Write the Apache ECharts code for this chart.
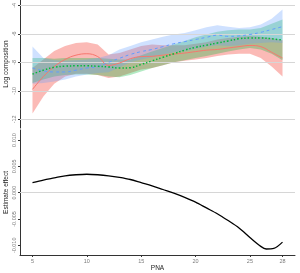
<!DOCTYPE html>
<html><head><meta charset="utf-8">
<script src="https://cdn.jsdelivr.net/npm/echarts@6/dist/echarts.min.js"></script>
<style>html,body{margin:0;padding:0;background:#fff}#c{width:300px;height:273px}</style>
</head><body><div id="c"></div>
<script>
var pna = [5,6,7,8,9,10,11,12,13,14,15,16,17,18,19,20,21,22,23,24,25,26,27,28];
var redFit   = [-9.9,-9.0,-8.3,-7.8,-7.5,-7.4,-7.6,-8.22,-8.05,-7.75,-7.6,-7.58,-7.5,-7.42,-7.35,-7.25,-7.15,-7.1,-7.0,-6.9,-6.82,-6.9,-7.3,-7.7];
var redLow   = [-11.6,-10.4,-9.5,-9.0,-8.8,-8.8,-8.9,-9.1,-9.0,-8.75,-8.5,-8.4,-8.2,-8.0,-7.9,-7.8,-7.7,-7.55,-7.45,-7.4,-7.4,-7.7,-8.3,-9.0];
var redHigh  = [-8.4,-7.8,-7.2,-6.85,-6.65,-6.6,-6.75,-7.45,-7.35,-7.1,-6.85,-6.75,-6.8,-6.8,-6.8,-6.7,-6.6,-6.4,-6.3,-6.2,-6.15,-6.2,-6.3,-6.45];
var greenFit = [-8.83,-8.55,-8.35,-8.27,-8.25,-8.25,-8.28,-8.33,-8.4,-8.38,-8.15,-7.9,-7.65,-7.4,-7.15,-6.95,-6.8,-6.65,-6.5,-6.35,-6.3,-6.3,-6.35,-6.44];
var greenLow = [-9.45,-9.2,-9.0,-8.9,-8.85,-8.85,-8.9,-9.0,-9.05,-8.9,-8.65,-8.4,-8.2,-8.0,-7.85,-7.7,-7.55,-7.4,-7.25,-7.1,-7.0,-7.1,-7.4,-7.85];
var greenHigh= [-7.7,-7.7,-7.75,-7.7,-7.7,-7.7,-7.7,-7.75,-7.8,-7.8,-7.5,-7.25,-7.0,-6.75,-6.5,-6.25,-6.05,-5.85,-5.75,-5.7,-5.7,-5.6,-5.3,-5.0];
var blueFit  = [-8.4,-8.6,-8.68,-8.68,-8.55,-8.4,-8.3,-8.0,-7.72,-7.45,-7.25,-7.1,-6.9,-6.7,-6.55,-6.4,-6.25,-6.1,-6.18,-6.15,-6.05,-5.9,-5.7,-5.5];
var blueLow  = [-9.5,-9.45,-9.35,-9.2,-9.0,-8.85,-8.75,-8.7,-8.35,-8.0,-7.8,-7.65,-7.45,-7.3,-7.2,-7.05,-6.9,-6.8,-6.85,-6.8,-6.7,-6.65,-6.6,-6.65];
var blueHigh = [-6.9,-7.7,-7.85,-7.9,-7.85,-7.8,-7.7,-7.5,-7.1,-6.85,-6.6,-6.4,-6.2,-6.05,-5.95,-5.75,-5.55,-5.4,-5.5,-5.6,-5.55,-5.35,-4.95,-4.3];
var effX = [5,6,7,8,9,10,11,12,13,14,15,16,17,18,19,20,21,22,23,24,25,26,26.5,27.2,28];
var effY = [0.0019,0.0024,0.0028,0.0032,0.0034,0.0035,0.0034,0.0032,0.0029,0.0025,0.0019,0.0013,0.0006,-0.0001,-0.0009,-0.0018,-0.0029,-0.0040,-0.0053,-0.0067,-0.0085,-0.0102,-0.0107,-0.0106,-0.0094];
var topTicks = [-12,-10,-8,-6,-4];
var botTicks = [-0.01,-0.005,0,0.005,0.01];
var xTicks = [5,10,15,20,25,28];

function pts(xs, ys){ return xs.map(function(x,i){ return [x, ys[i]]; }); }

var FONT = 'Liberation Sans';
var labelStyle = {color:'#7a7a7a', fontSize:5.5, fontFamily:FONT};

function ribbon(lo, hi, color, op){
  return {
    type:'custom', xAxisIndex:0, yAxisIndex:0, silent:true, z:2, clip:true,
    data: pna.map(function(x,i){ return [x, lo[i], hi[i]]; }),
    renderItem: function(params, api){
      if (params.dataIndex !== 0) return null;
      var up = [], dn = [];
      for (var i = 0; i < pna.length; i++) {
        up.push(api.coord([pna[i], hi[i]]));
        dn.push(api.coord([pna[i], lo[i]]));
      }
      return {
        type:'group',
        children:[
          {type:'polygon', shape:{points: up.concat(dn.reverse()), smooth:0}, style:{fill:color, opacity:op}}
        ]
      };
    }
  };
}

var series = [];
series.push({type:'line', xAxisIndex:0, yAxisIndex:0, data:pts(pna, redFit), symbol:'none', silent:true, z:0,
  lineStyle:{opacity:0},
  markLine:{silent:true, symbol:'none', label:{show:false}, lineStyle:{color:'#d6d6d6', width:1, type:'solid'},
    data: topTicks.map(function(v){ return {yAxis:v}; })}});
series.push(ribbon(redLow, redHigh, '#F8766D', 0.5));
series.push(ribbon(greenLow, greenHigh, '#00BA38', 0.3));
series.push(ribbon(blueLow, blueHigh, '#619CFF', 0.3));
series.push({type:'line', xAxisIndex:0, yAxisIndex:0, data:pts(pna, redFit), smooth:0.4, symbol:'none',
  lineStyle:{color:'#F8766D', width:1}, z:5});
series.push({type:'line', xAxisIndex:0, yAxisIndex:0, data:pts(pna, blueFit), smooth:0.4, symbol:'none',
  lineStyle:{color:'#619CFF', width:1, type:[3,3]}, z:5});
series.push({type:'line', xAxisIndex:0, yAxisIndex:0, data:pts(pna, greenFit), smooth:0.4, symbol:'none',
  lineStyle:{color:'#00BA38', width:1.5, type:[1.5,2]}, z:6});
series.push({type:'line', xAxisIndex:1, yAxisIndex:1, data:pts(effX, effY), smooth:0.3, symbol:'none',
  lineStyle:{color:'#000', width:1.3}, z:5,
  markLine:{silent:true, symbol:'none', label:{show:false}, z:1, lineStyle:{color:'#d6d6d6', width:1, type:'solid'},
    data:[{yAxis:0}]}});

var nameStyle = {color:'#222', fontSize:6.5, fontFamily:FONT};

var chart = echarts.init(document.getElementById('c'), null, {renderer:'canvas'});
chart.setOption({
  animation:false,
  backgroundColor:'#fff',
  grid:[{left:20, right:5, top:0, height:128, containLabel:false, outerBoundsMode:'none'},
        {left:20, right:5, top:130, height:125, containLabel:false, outerBoundsMode:'none'}],
  xAxis:[
    {type:'value', gridIndex:0, min:3.85, max:29.15, axisLine:{show:false}, axisTick:{show:false},
     axisLabel:{show:false}, splitLine:{show:false}},
    {type:'value', gridIndex:1, min:3.85, max:29.15,
     name:'PNA', nameLocation:'middle', nameGap:10, nameMoveOverlap:false,
     nameTextStyle:nameStyle,
     axisLine:{show:true, onZero:false, lineStyle:{color:'#333', width:1}},
     axisTick:{show:true, length:2, customValues:xTicks, lineStyle:{color:'#333'}},
     axisLabel:Object.assign({customValues:xTicks, margin:3}, labelStyle),
     splitLine:{show:false}}
  ],
  yAxis:[
    {type:'value', gridIndex:0, min:-12.61, max:-3.63,
     name:'Log composition', nameLocation:'middle', nameGap:10, nameRotate:90, nameMoveOverlap:false,
     nameTextStyle:Object.assign({verticalAlign:'bottom'}, nameStyle),
     axisLine:{show:true, onZero:false, lineStyle:{color:'#333', width:1}},
     axisTick:{show:true, length:2, customValues:topTicks, lineStyle:{color:'#333'}},
     axisLabel:Object.assign({customValues:topTicks, rotate:90, margin:3}, labelStyle),
     splitLine:{show:false}},
    {type:'value', gridIndex:1, min:-0.01184, max:0.0119,
     name:'Estimate effect', nameLocation:'middle', nameGap:10, nameRotate:90, nameMoveOverlap:false,
     nameTextStyle:Object.assign({verticalAlign:'bottom'}, nameStyle),
     axisLine:{show:true, onZero:false, lineStyle:{color:'#333', width:1}},
     axisTick:{show:true, length:2, customValues:botTicks, lineStyle:{color:'#333'}},
     axisLabel:Object.assign({customValues:botTicks, rotate:90, margin:3,
       formatter:function(v){ return v.toFixed(3); }}, labelStyle),
     splitLine:{show:false}}
  ],
  series:series
});
</script></body></html>
